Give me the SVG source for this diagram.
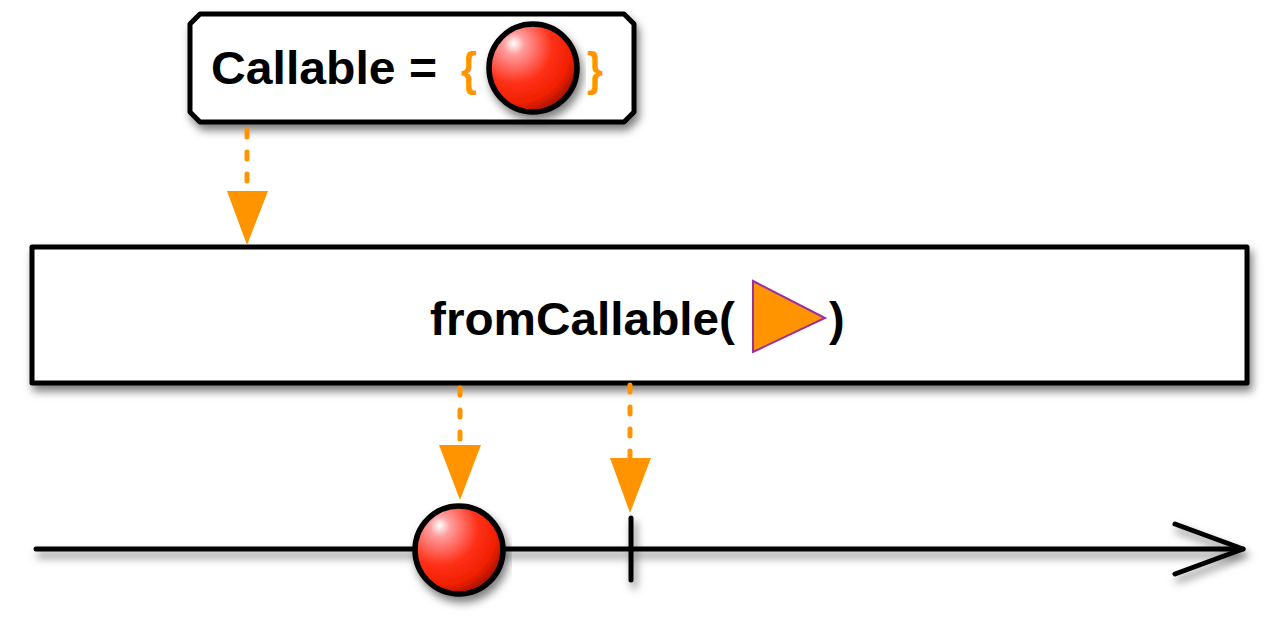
<svg xmlns="http://www.w3.org/2000/svg" width="1280" height="620" viewBox="0 0 1280 620">
  <style>
    .frame { fill: #fff; stroke: #000; stroke-width: 5; stroke-linejoin: round; filter: url(#shadow); }
    .label { font-family: "Liberation Sans", Arial, sans-serif; font-weight: bold; font-size: 47px; fill: #000; }
    .brace { font-family: "Liberation Sans", Arial, sans-serif; font-weight: bold; font-size: 46px; fill: #ff9400; }
    .flow { stroke: #ff9400; stroke-width: 5; stroke-linecap: round; stroke-dasharray: 7 15; fill: none; }
    .head { fill: #ff9400; }
    .line { stroke: #000; stroke-width: 5; fill: none; stroke-linecap: round; stroke-linejoin: round; }
    .ball { fill: url(#marble); stroke: #000; stroke-width: 5.5; }
  </style>
  <defs>
    <filter id="shadow" x="-10%" y="-20%" width="120%" height="160%">
      <feDropShadow dx="3" dy="6" stdDeviation="4" flood-color="#000" flood-opacity="0.5"/>
    </filter>
    <radialGradient id="marble" cx="0.3" cy="0.28" r="0.85" fx="0.28" fy="0.22">
      <stop offset="0" stop-color="#ffffff"/>
      <stop offset="0.14" stop-color="#ff9d9d"/>
      <stop offset="0.5" stop-color="#ff3018"/>
      <stop offset="0.75" stop-color="#f02000"/>
      <stop offset="1" stop-color="#800c00"/>
    </radialGradient>
  </defs>

  <!-- source: the callable definition -->
  <g id="callable">
    <path class="frame" d="M200,14 H624 L634,24 V112 L624,122 H200 L190,112 V24 Z"/>
    <text class="label" x="211" y="84" textLength="226" lengthAdjust="spacingAndGlyphs">Callable =</text>
    <text class="brace" x="461" y="85" textLength="16" lengthAdjust="spacingAndGlyphs">{</text>
    <text class="brace" x="587" y="85" textLength="16" lengthAdjust="spacingAndGlyphs">}</text>
    <circle class="ball" cx="533" cy="68" r="44" filter="url(#shadow)"/>
  </g>

  <!-- operator box -->
  <g id="operator">
    <rect class="frame" x="32" y="247" width="1215" height="136"/>
    <text class="label" x="430" y="335" textLength="305" lengthAdjust="spacingAndGlyphs">fromCallable(</text>
    <polygon points="753,281 825,318 753,352" fill="#ff9400" stroke="#9b2fa0" stroke-width="2"/>
    <text class="label" x="829" y="335">)</text>
  </g>

  <!-- output timeline -->
  <g id="timeline">
    <g filter="url(#shadow)">
      <line class="line" x1="36" y1="549" x2="1243" y2="549"/>
      <polyline class="line" points="1175,524 1243,549 1175,574"/>
      <line class="line" x1="631" y1="518" x2="631" y2="580"/>
    </g>
    <circle id="emission" class="ball" cx="459" cy="550" r="44" filter="url(#shadow)"/>
  </g>

  <!-- connectors -->
  <g id="connectors">
    <line class="flow" x1="247" y1="130" x2="247" y2="190"/>
    <polygon class="head" points="227,191 268,191 247,245"/>
    <line class="flow" x1="460" y1="388" x2="460" y2="445"/>
    <polygon class="head" points="439,445 481,445 460,500"/>
    <line class="flow" x1="630" y1="385" x2="630" y2="457"/>
    <polygon class="head" points="610,458 651,458 630,513"/>
  </g>
</svg>
